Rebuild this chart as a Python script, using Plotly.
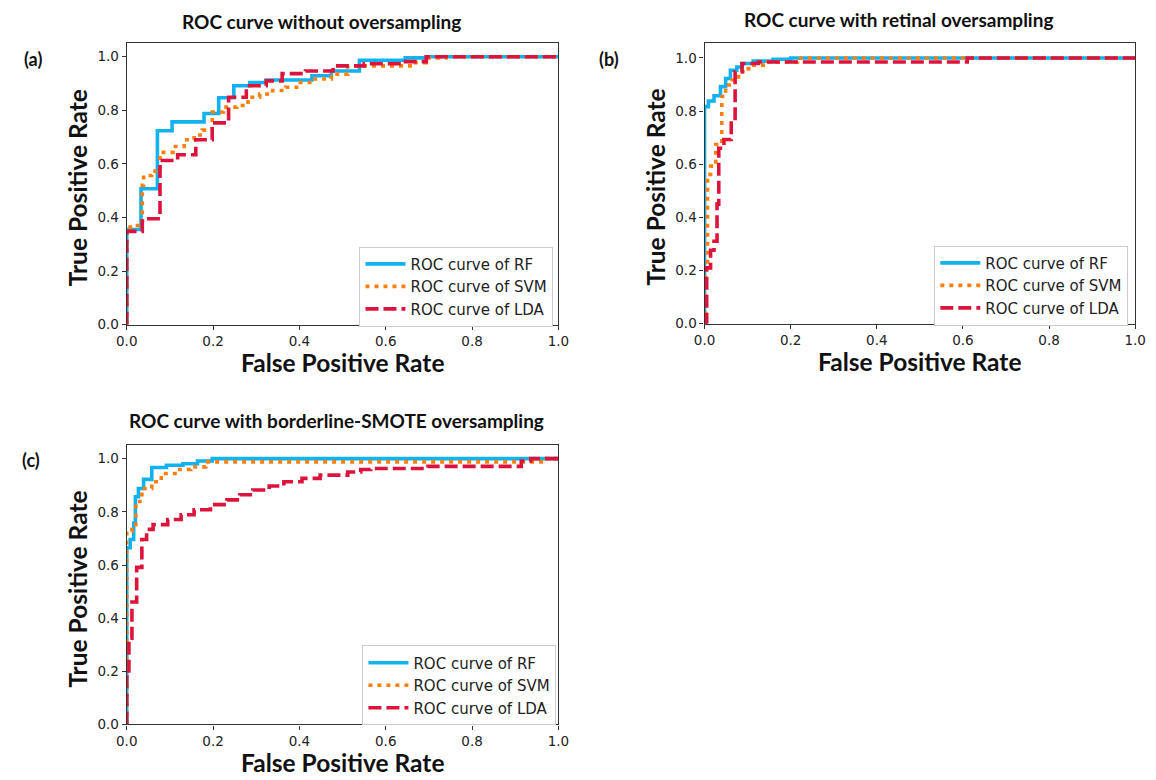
import plotly.graph_objects as go

# ---------------- data ----------------
# Panel (a): without oversampling
a_rf_fpr = [0.0, 0.0, 0.033, 0.071, 0.105, 0.179, 0.213, 0.248, 0.285, 0.323, 0.429, 0.474, 0.539, 0.645, 0.694, 1.0]
a_rf_tpr = [0.0, 0.355, 0.507, 0.724, 0.757, 0.788, 0.847, 0.892, 0.904, 0.913, 0.929, 0.947, 0.987, 0.996, 1.0, 1.0]
a_svm_fpr = [0.0, 0.0, 0.016, 0.036, 0.039, 0.058, 0.077, 0.107, 0.133, 0.156, 0.175, 0.198, 0.224, 0.255, 0.281, 0.308, 0.338, 0.368, 0.402, 0.436, 0.474, 0.512, 0.664, 0.694, 0.739, 1.0]
a_svm_tpr = [0.0, 0.364, 0.37, 0.52, 0.557, 0.573, 0.643, 0.665, 0.69, 0.708, 0.726, 0.794, 0.812, 0.818, 0.849, 0.861, 0.874, 0.886, 0.904, 0.917, 0.935, 0.966, 0.978, 0.996, 1.0, 1.0]
a_lda_fpr = [0.0, 0.0, 0.036, 0.077, 0.118, 0.16, 0.198, 0.236, 0.277, 0.323, 0.36, 0.414, 0.478, 0.55, 0.641, 0.694, 1.0]
a_lda_tpr = [0.0, 0.348, 0.395, 0.613, 0.634, 0.69, 0.753, 0.849, 0.892, 0.91, 0.937, 0.947, 0.966, 0.974, 0.982, 1.0, 1.0]

# Panel (b): retinal oversampling
b_rf_fpr = [0.0, 0.0, 0.009, 0.022, 0.037, 0.049, 0.06, 0.075, 0.087, 0.113, 0.159, 0.2, 1.0]
b_rf_tpr = [0.0, 0.817, 0.838, 0.858, 0.892, 0.923, 0.954, 0.966, 0.979, 0.988, 0.995, 1.0, 1.0]
b_svm_fpr = [0.0, 0.002, 0.007, 0.014, 0.026, 0.04, 0.049, 0.064, 0.079, 0.094, 0.109, 0.147, 0.216, 1.0]
b_svm_tpr = [0.0, 0.214, 0.562, 0.593, 0.674, 0.855, 0.898, 0.917, 0.948, 0.96, 0.973, 0.985, 1.0, 1.0]
b_lda_fpr = [0.0, 0.005, 0.014, 0.022, 0.029, 0.033, 0.045, 0.062, 0.071, 0.087, 0.125, 0.61, 1.0]
b_lda_tpr = [0.0, 0.21, 0.276, 0.31, 0.45, 0.66, 0.693, 0.755, 0.948, 0.979, 0.985, 1.0, 1.0]

# Panel (c): borderline-SMOTE oversampling
c_rf_fpr = [0.0, 0.0, 0.008, 0.016, 0.02, 0.027, 0.039, 0.058, 0.092, 0.13, 0.164, 0.198, 1.0]
c_rf_tpr = [0.0, 0.665, 0.696, 0.758, 0.857, 0.888, 0.922, 0.967, 0.975, 0.981, 0.991, 1.0, 1.0]
c_svm_fpr = [0.0, 0.0, 0.012, 0.021, 0.035, 0.058, 0.08, 0.118, 0.148, 0.183, 0.967, 1.0]
c_svm_tpr = [0.0, 0.727, 0.752, 0.839, 0.888, 0.913, 0.944, 0.959, 0.969, 0.988, 1.0, 1.0]
c_lda_fpr = [0.0, 0.0, 0.005, 0.012, 0.023, 0.035, 0.046, 0.061, 0.095, 0.126, 0.156, 0.194, 0.232, 0.262, 0.292, 0.33, 0.364, 0.406, 0.448, 0.512, 0.542, 0.565, 0.698, 0.914, 0.936, 1.0]
c_lda_tpr = [0.0, 0.188, 0.325, 0.461, 0.591, 0.696, 0.734, 0.752, 0.771, 0.789, 0.808, 0.827, 0.845, 0.864, 0.882, 0.897, 0.913, 0.926, 0.938, 0.95, 0.959, 0.963, 0.971, 0.991, 1.0, 1.0]

panel_titles = ["ROC curve without oversampling",
                "ROC curve with retinal oversampling",
                "ROC curve with borderline-SMOTE oversampling"]
panel_labels = ["(a)", "(b)", "(c)"]
series_names = ["ROC curve of RF", "ROC curve of SVM", "ROC curve of LDA"]
tick_vals = [0.0, 0.2, 0.4, 0.6, 0.8, 1.0]
tick_text = ["0.0", "0.2", "0.4", "0.6", "0.8", "1.0"]

# ---------------- styling ----------------
W, H = 1156, 780
colors = ["#12B2EE", "#FF7F0E", "#DC143C"]
dashes = ["solid", "4px,5px", "13px,5px"]
widths = [3.6, 3.6, 3.6]

def px_x(p):
    return p / W

def px_y(p):
    return 1 - p / H

# plot boxes in pixels: (left, right, top, bottom, y-range top)
boxes = [
    (118, 558, 43, 328, 1.053),
    (707, 1146, 43, 327, 1.058),
    (118, 558, 450, 732, 1.05),
]
legend_pos = [(553, 330), (1139, 329), (556, 733)]
title_pos = [(317, 22), (905, 20), (332, 425)]
label_pos = [(22, 60), (610, 60), (20, 465)]

data = [
    [(a_rf_fpr, a_rf_tpr), (a_svm_fpr, a_svm_tpr), (a_lda_fpr, a_lda_tpr)],
    [(b_rf_fpr, b_rf_tpr), (b_svm_fpr, b_svm_tpr), (b_lda_fpr, b_lda_tpr)],
    [(c_rf_fpr, c_rf_tpr), (c_svm_fpr, c_svm_tpr), (c_lda_fpr, c_lda_tpr)],
]

fig = go.Figure()
layout = dict(
    width=W, height=H, autosize=False,
    margin=dict(l=0, r=0, t=0, b=0),
    paper_bgcolor="white", plot_bgcolor="white",
    showlegend=True,
    font=dict(family="DejaVu Sans", color="#222222"),
)
annotations = []

for i, (box, series) in enumerate(zip(boxes, data)):
    l, r, t, b, ytop = box
    xa = "x" if i == 0 else f"x{i+1}"
    ya = "y" if i == 0 else f"y{i+1}"
    leg = "legend" if i == 0 else f"legend{i+1}"
    for j, (fx, ty) in enumerate(series):
        fig.add_trace(go.Scatter(
            x=fx, y=ty, mode="lines", line_shape="hv",
            name=series_names[j],
            line=dict(color=colors[j], dash=dashes[j], width=widths[j]),
            xaxis=xa, yaxis=ya, legend=leg,
        ))
    axis_common = dict(
        showgrid=False, zeroline=False, showline=True, linecolor="#333333",
        linewidth=1.2, mirror=True, ticks="outside", ticklen=4, tickwidth=1.2,
        tickcolor="#333333", tickvals=tick_vals, ticktext=tick_text,
        tickfont=dict(family="DejaVu Sans", size=13.5, color="#222222"),
    )
    layout["xaxis" if i == 0 else f"xaxis{i+1}"] = dict(
        axis_common, domain=[px_x(l), px_x(r)], range=[0, 1],
        anchor=ya,
    )
    layout["yaxis" if i == 0 else f"yaxis{i+1}"] = dict(
        axis_common, domain=[px_y(b), px_y(t)], range=[0, ytop],
        anchor=xa,
    )
    lx, ly = legend_pos[i]
    layout[leg] = dict(
        x=px_x(lx), y=px_y(ly), xanchor="right", yanchor="bottom",
        bgcolor="white", bordercolor="#CCCCCC", borderwidth=1,
        font=dict(family="DejaVu Sans", size=15, color="#222222"),
        itemwidth=40,
    )
    cx = (l + r) / 2
    cy = (t + b) / 2
    tx, ty_ = title_pos[i]
    annotations.append(dict(
        text=f"<b>{panel_titles[i]}</b>", xref="paper", yref="paper",
        x=px_x(tx), y=px_y(ty_), xanchor="center", yanchor="middle",
        showarrow=False, font=dict(family="Lato", size=19, color="#111111"),
    ))
    lx_, ly_ = label_pos[i]
    annotations.append(dict(
        text=f"<b>{panel_labels[i]}</b>", xref="paper", yref="paper",
        x=px_x(lx_), y=px_y(ly_), xanchor="center", yanchor="middle",
        showarrow=False, font=dict(family="Lato", size=18, color="#111111"),
    ))
    annotations.append(dict(
        text="<b>False Positive Rate</b>", xref="paper", yref="paper",
        x=px_x(cx), y=px_y(b + 38), xanchor="center", yanchor="middle",
        showarrow=False, font=dict(family="Lato", size=24.5, color="#111111"),
    ))
    annotations.append(dict(
        text="<b>True Positive Rate</b>", xref="paper", yref="paper",
        x=px_x(l - 50), y=px_y(cy + 4), xanchor="center", yanchor="middle",
        textangle=-90,
        showarrow=False, font=dict(family="Lato", size=24.5, color="#111111"),
    ))

layout["annotations"] = annotations
fig.update_layout(**layout)
fig.write_html("out.html")
